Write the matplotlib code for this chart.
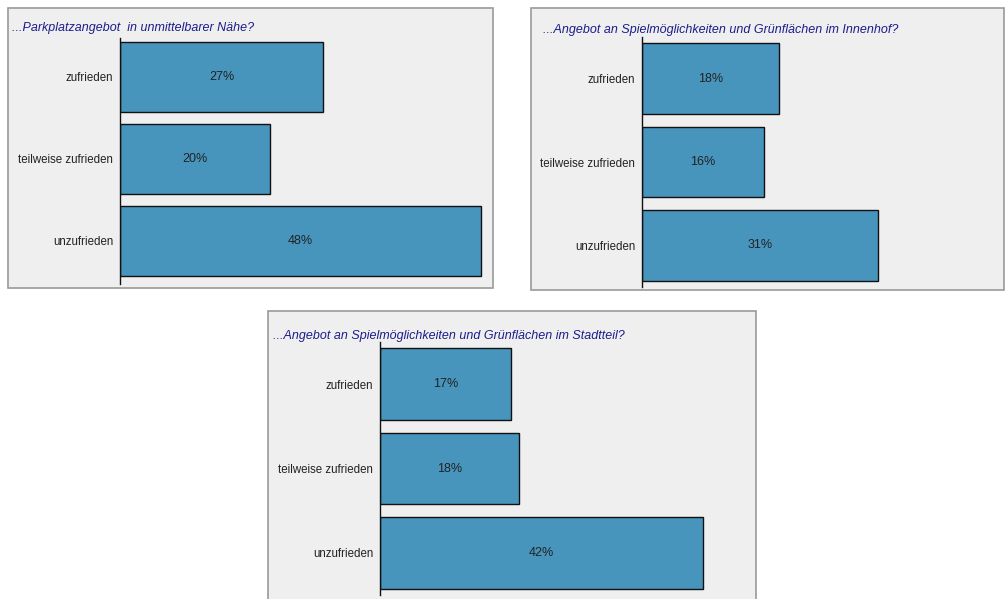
import matplotlib.pyplot as plt
from matplotlib.patches import Rectangle

categories = ["zufrieden", "teilweise zufrieden", "unzufrieden"]

titles = [
    "...Parkplatzangebot  in unmittelbarer Nähe?",
    "...Angebot an Spielmöglichkeiten und Grünflächen im Innenhof?",
    "...Angebot an Spielmöglichkeiten und Grünflächen im Stadtteil?",
]
parkplatz = [27, 20, 48]
innenhof = [18, 16, 31]
stadtteil = [17, 18, 42]

W, H = 1005, 599
bar_color = "#4795bd"
bg_color = "#efefef"
title_color = "#1c1c8c"
font = ["Liberation Sans Narrow", "Liberation Sans", "DejaVu Sans"]
plt.rcParams["font.family"] = font

fig = plt.figure(figsize=(W / 100, H / 100), dpi=100)
fig.patch.set_facecolor("white")


def fx(px):
    return px / W


def fy(py):
    return 1 - py / H


# panel layout in pixels: box (x0, y0, x1, y1), axes (left, top, bottom),
# px per %, title pos, y offset of the bars
panels = [
    dict(box=(8, 8, 493, 288), ax=(120, 38, 284), scale=7.52, title=(12, 28),
         shift=0.025, values=parkplatz),
    dict(box=(531, 8, 1004, 290), ax=(642, 37, 287), scale=7.6, title=(543, 30),
         shift=0.0, values=innenhof),
    dict(box=(268, 311, 756, 601), ax=(380, 342, 595), scale=7.7, title=(273, 336),
         shift=0.0, values=stadtteil),
]

xmax = 50
for p, title in zip(panels, titles):
    x0, y0, x1, y1 = p["box"]
    fig.patches.append(Rectangle((fx(x0), fy(y1)), fx(x1 - x0), (y1 - y0) / H,
                                 transform=fig.transFigure, facecolor=bg_color,
                                 edgecolor="#9a9a9a", linewidth=1.2, zorder=-5))
    fig.text(fx(p["title"][0]), fy(p["title"][1]), title, color=title_color,
             fontsize=9, style="italic", va="center", ha="left")

    left, top, bottom = p["ax"]
    width = xmax * p["scale"]
    ax = fig.add_axes([fx(left), fy(bottom), fx(width), (bottom - top) / H])
    ax.set_zorder(2)
    ax.patch.set_alpha(0)
    ypos = range(len(categories))
    bars = ax.barh(ypos, p["values"], height=0.85, color=bar_color,
                   edgecolor="#111111", linewidth=1.0)
    for b, v in zip(bars, p["values"]):
        ax.text(v / 2, b.get_y() + b.get_height() / 2, "%d%%" % v,
                ha="center", va="center", fontsize=9, color="#222222")
    ax.set_xlim(0, xmax)
    ax.set_ylim(2.5 + p["shift"], -0.5 + p["shift"])
    ax.set_yticks(list(ypos))
    ax.set_yticklabels(categories, fontsize=8.3, color="#222222")
    ax.tick_params(axis="y", length=0, pad=5)
    ax.set_xticks([])
    for s in ["top", "right", "bottom"]:
        ax.spines[s].set_visible(False)
    ax.spines["left"].set_linewidth(1.0)
    ax.spines["left"].set_color("#111111")

fig.savefig("out.png", dpi=100, facecolor="white")
